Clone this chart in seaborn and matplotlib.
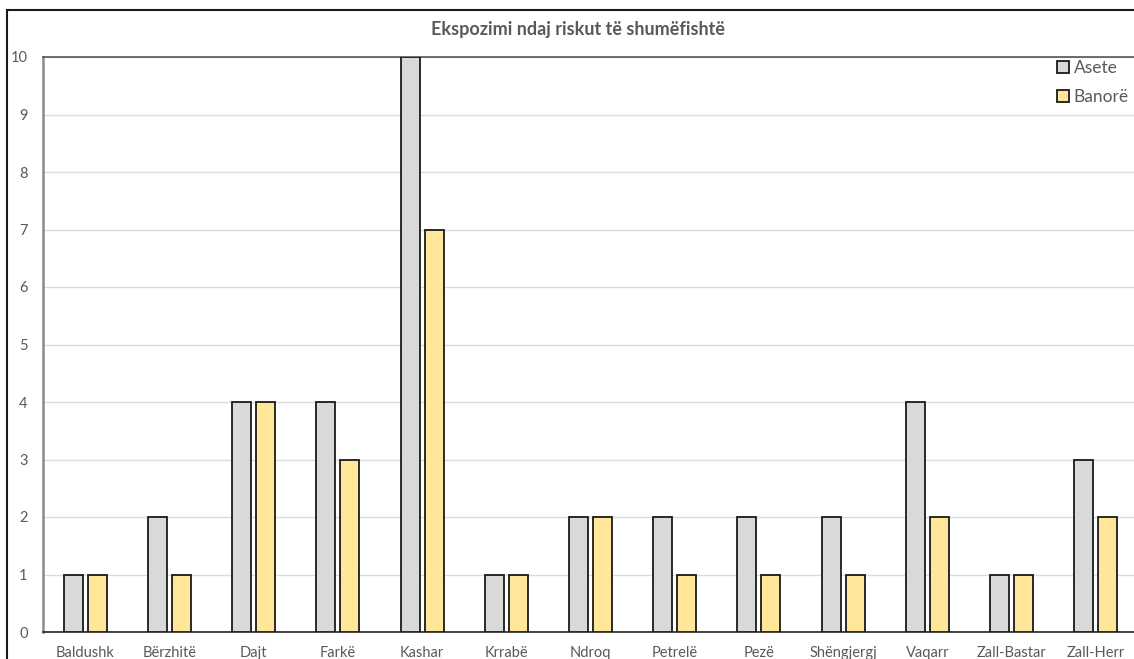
import matplotlib
matplotlib.use("Agg")
import matplotlib.pyplot as plt
from matplotlib.patches import Rectangle
import seaborn as sns
import pandas as pd

categories = ["Baldushk", "Bërzhitë", "Dajt", "Farkë", "Kashar", "Krrabë", "Ndroq",
              "Petrelë", "Pezë", "Shëngjergj", "Vaqarr", "Zall-Bastar", "Zall-Herr"]
asete = [1, 2, 4, 4, 10, 1, 2, 2, 2, 2, 4, 1, 3]
banore = [1, 1, 4, 3, 7, 1, 2, 1, 1, 1, 2, 1, 2]
series_names = ["Asete", "Banorë"]
title = "Ekspozimi ndaj riskut të shumëfishtë"
yticks = list(range(0, 11))

df = pd.DataFrame({
    "Komuna": categories * 2,
    "Vlera": asete + banore,
    "Seria": [series_names[0]] * len(categories) + [series_names[1]] * len(categories),
})

sns.set_theme(style="white")
plt.rcParams["font.family"] = ["Lato", "DejaVu Sans"]

text_color = "#595959"
fig = plt.figure(figsize=(11.34, 6.59), dpi=100)
W, H = 1134, 659
ax = fig.add_axes([43 / W, (H - 632) / H, 1095 / W, 575 / H])

sns.barplot(data=df, x="Komuna", y="Vlera", hue="Seria", order=categories,
            hue_order=series_names, palette=["#D9D9D9", "#FFE699"], saturation=1,
            width=0.57, gap=0.21, edgecolor="#1a1a1a", linewidth=1.3,
            errorbar=None, ax=ax, zorder=3)

ax.set_xlim(-0.5, len(categories) - 0.5)
ax.set_ylim(0, 10)
ax.set_yticks(yticks)
ax.yaxis.grid(True, color="#dcdcdc", linewidth=1.0, zorder=0)
ax.set_axisbelow(True)
ax.set_xlabel("")
ax.set_ylabel("")
ax.tick_params(axis="both", length=0, colors=text_color, labelsize=10.5)
ax.tick_params(axis="y", pad=11)
ax.tick_params(axis="x", pad=10)

ax.spines["right"].set_visible(False)
ax.spines["top"].set_color("#555555")
ax.spines["top"].set_linewidth(1.2)
ax.spines["left"].set_color("#8a8a8a")
ax.spines["left"].set_linewidth(1.8)
ax.spines["bottom"].set_color("#222222")
ax.spines["bottom"].set_linewidth(1.2)

handles, labels = ax.get_legend_handles_labels()
ax.legend_.remove()
fig.legend(handles, labels, loc="upper left", bbox_to_anchor=(1057 / W, 1 - 60 / H),
           frameon=False, fontsize=12.5, handlelength=0.7, handleheight=0.7,
           handletextpad=0.25, labelspacing=0.75, labelcolor=text_color,
           borderpad=0, borderaxespad=0)

fig.text(578 / W, 1 - 30 / H, title, ha="center", va="center", fontsize=13,
         fontweight="bold", color=text_color)

# outer chart border
fig.patches.append(Rectangle((7 / W, -0.05), 1.2, (H - 10) / H + 0.05,
                             transform=fig.transFigure, fill=False,
                             edgecolor="#1a1a1a", linewidth=1.5, zorder=10))

fig.savefig("out.png", dpi=100)
